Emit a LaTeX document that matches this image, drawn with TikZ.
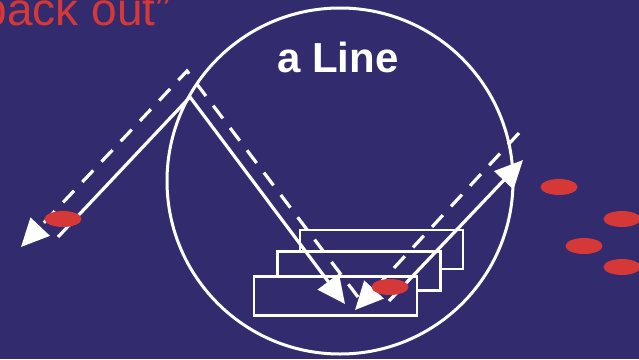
\documentclass[tikz,border=0pt]{standalone}
\usepackage{fontspec}
\setmainfont{Liberation Sans}
\usepackage{tikz}
\usetikzlibrary{shapes.geometric,arrows.meta,positioning}
\definecolor{slidebg}{HTML}{322B6E}
\definecolor{slidered}{HTML}{D63838}

\begin{document}
\begin{tikzpicture}[
  x=1pt, y=-1pt,
  lens/.style={circle, draw=white, line width=3pt, minimum size=346pt, inner sep=0pt},
  slab/.style={rectangle, draw=white, fill=slidebg, line width=2.4pt,
               minimum width=163pt, minimum height=39pt, inner sep=0pt},
  spot/.style={ellipse, fill=slidered, minimum width=37pt, minimum height=16pt, inner sep=0pt},
  ray/.style={white, line width=3.2pt},
  dray/.style={ray, dash pattern=on 16pt off 12pt},
  arrowhd/.style={-{Triangle[length=28pt,width=26pt]}}
]
\fill[slidebg] (0,0) rectangle (639,359);
\useasboundingbox (0,0) rectangle (639,359);
\clip (0,0) rectangle (639,359);
\node[anchor=base east, text=slidered, font=\fontsize{46}{50}\selectfont, inner sep=0pt]
  (caption) at (171,25) {back out”};
\node[lens] (lens) at (340,181) {};
\node[anchor=base, text=white, font=\bfseries\fontsize{42}{46}\selectfont, inner sep=0pt]
  (title) at (338,72.5) {a Line};
\node[slab] (back) at (381.5,249.5) {};
\node[slab] (mid) at (359,271) {};
\node[slab] (front) at (335.5,296) {};
\coordinate (s0) at (58,237);
\coordinate (sv) at (190,97);
\coordinate (s1) at (345,304);
\coordinate (r0) at (389,301);
\coordinate (r1) at (523,160);
\coordinate (dl) at (21,247);
\coordinate (dv) at (187,71);
\coordinate (db) at (358,297);
\coordinate (dt) at (519,133);
\coordinate (db2) at (355,310);
\draw[ray, arrowhd] (s0) -- (sv) -- (s1);
\draw[ray, arrowhd] (r0) -- (r1);
\draw[dray, arrowhd] (db) -- (dv) -- (dl);
\draw[dray, arrowhd] (dt) -- (db2);
\node[spot] (hitL) at (63,219) {};
\node[spot] (hitR) at (390,287) {};
\node[spot] (out1) at (559,187) {};
\node[spot] (out2) at (622,219) {};
\node[spot] (out3) at (584,246) {};
\node[spot] (out4) at (622,267) {};
\end{tikzpicture}
\end{document}
